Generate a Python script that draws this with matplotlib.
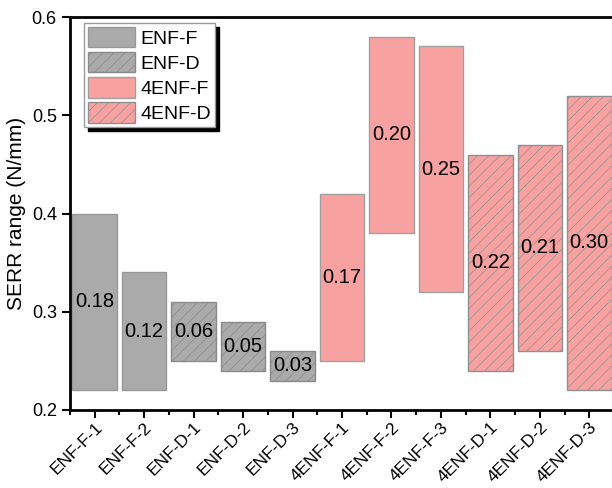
import matplotlib
matplotlib.use('Agg')
import matplotlib.pyplot as plt
from matplotlib.patches import Patch
from matplotlib.ticker import MultipleLocator

plt.rcParams['font.family'] = ['Liberation Sans', 'DejaVu Sans']
plt.rcParams['hatch.linewidth'] = 0.5

# Data: SERR range per specimen (min, max in N/mm)
specimens = ['ENF-F-1', 'ENF-F-2', 'ENF-D-1', 'ENF-D-2', 'ENF-D-3',
             '4ENF-F-1', '4ENF-F-2', '4ENF-F-3', '4ENF-D-1', '4ENF-D-2', '4ENF-D-3']
serr_min = [0.22, 0.22, 0.25, 0.24, 0.23, 0.25, 0.38, 0.32, 0.24, 0.26, 0.22]
serr_max = [0.40, 0.34, 0.31, 0.29, 0.26, 0.42, 0.58, 0.57, 0.46, 0.47, 0.52]
groups = ['ENF-F', 'ENF-F', 'ENF-D', 'ENF-D', 'ENF-D',
          '4ENF-F', '4ENF-F', '4ENF-F', '4ENF-D', '4ENF-D', '4ENF-D']
group_names = ['ENF-F', 'ENF-D', '4ENF-F', '4ENF-D']

GRAY = '#aaaaaa'
PINK = '#f7a1a1'
style = {
    'ENF-F': dict(facecolor=GRAY, edgecolor='#999999', hatch=None),
    'ENF-D': dict(facecolor=GRAY, edgecolor='#8a8a8a', hatch='///'),
    '4ENF-F': dict(facecolor=PINK, edgecolor='#a0a0a0', hatch=None),
    '4ENF-D': dict(facecolor=PINK, edgecolor='#909090', hatch='///'),
}

fig = plt.figure(figsize=(6.12, 4.88), dpi=100)
ax = fig.add_axes([70 / 612, 78 / 488, 544 / 612, 393 / 488])

x = list(range(len(specimens)))
for i, (lo, hi, g) in enumerate(zip(serr_min, serr_max, groups)):
    s = style[g]
    ax.bar(i, hi - lo, bottom=lo, width=0.9, facecolor=s['facecolor'],
           edgecolor=s['edgecolor'], hatch=s['hatch'], linewidth=1.0, zorder=2)
    ax.text(i, (lo + hi) / 2, f'{hi - lo:.2f}', ha='center', va='center',
            fontsize=14.5, color='black', zorder=3)

ax.set_xlim(-0.5, len(specimens) - 0.5)
ax.set_ylim(0.2, 0.6)
ax.yaxis.set_major_locator(MultipleLocator(0.1))
ax.yaxis.set_major_formatter(matplotlib.ticker.FormatStrFormatter('%.1f'))
ax.set_xticks(x)
ax.set_xticklabels(specimens, rotation=45, ha='right', rotation_mode='anchor',
                   fontsize=12.5)
ax.xaxis.set_minor_locator(MultipleLocator(0.5))

ax.set_ylabel('SERR range (N/mm)', fontsize=15, labelpad=4)
ax.tick_params(axis='both', which='major', direction='out', length=6, width=1.5)
ax.tick_params(axis='y', which='major', labelsize=13)
ax.tick_params(axis='x', which='minor', direction='out', length=3.5, width=1.5)
ax.tick_params(axis='x', which='major', pad=1)
for sp in ax.spines.values():
    sp.set_linewidth(2)

handles = [Patch(facecolor=style[g]['facecolor'], edgecolor=style[g]['edgecolor'],
                 hatch=style[g]['hatch'], linewidth=1.0) for g in group_names]
leg = ax.legend(handles, group_names, loc='upper left', bbox_to_anchor=(0.026, 0.985),
                borderaxespad=0, fontsize=14, handlelength=2.4, handleheight=1.25,
                handletextpad=0.3, labelspacing=0.22, borderpad=0.2,
                fancybox=False, framealpha=1,
                shadow={'ox': 3, 'oy': -3, 'color': 'black', 'alpha': 1})
leg.get_frame().set_edgecolor('#999999')
leg.get_frame().set_linewidth(1.0)

plt.savefig('out.png', dpi=100)
